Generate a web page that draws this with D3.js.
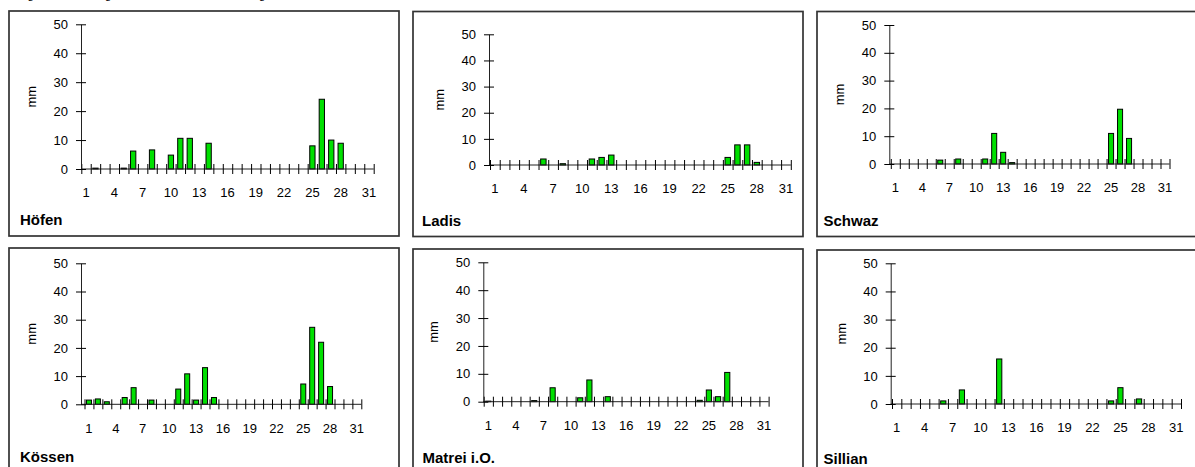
<!DOCTYPE html>
<html>
<head>
<meta charset="utf-8">
<script src="https://cdn.jsdelivr.net/npm/d3@7"></script>
<style>
  html, body { margin: 0; padding: 0; background: #fff; }
  svg { display: block; font-family: "Liberation Sans", Arial, sans-serif; }
</style>
</head>
<body>
<svg id="chart" width="1195" height="467"></svg>
<script>
// Days of the month
const days = [1,2,3,4,5,6,7,8,9,10,11,12,13,14,15,16,17,18,19,20,21,22,23,24,25,26,27,28,29,30,31];
const dayLabels = [1,4,7,10,13,16,19,22,25,28,31];
const yTicks = [0,10,20,30,40,50];

// Daily precipitation (mm) per station
const stations = ["Höfen", "Ladis", "Schwaz", "Kössen", "Matrei i.O.", "Sillian"];
const hoefen  = [0,0.3,0,0,0.3,6.2,0,6.6,0,4.8,10.6,10.6,0,8.9,0,0,0,0,0,0,0,0,0,0,8.0,24.1,10.0,8.9,0,0,0];
const ladis   = [0,0,0,0,0,2.3,0,0.5,0,0,2.3,2.9,3.8,0,0,0,0,0,0,0,0,0,0,0,2.9,7.7,7.7,1.0,0,0,0];
const schwaz  = [0,0,0,0,0,1.4,0,1.8,0,0,1.8,11.0,4.2,0.5,0,0,0,0,0,0,0,0,0,0,11.0,19.7,9.2,0,0,0,0];
const koessen = [1.5,1.9,0.9,0,2.4,5.9,0,1.5,0,0,5.4,10.8,1.5,13.0,2.4,0,0,0,0,0,0,0,0,0,7.2,27.3,22.0,6.3,0,0,0];
const matrei  = [0.2,0,0,0,0,0.4,0,5.0,0,0,1.4,7.8,0,1.8,0,0,0,0,0,0,0,0,0,0.5,4.2,1.8,10.5,0,0,0,0];
const sillian = [0,0,0,0,0,1.1,0,5.0,0,0,0,16.0,0,0,0,0,0,0,0,0,0,0,0,1.1,5.8,0,1.8,0,0,0,0];
const series = [hoefen, ladis, schwaz, koessen, matrei, sillian];

// Panel frames; plot areas are relative to their frame
// axis: x of the value axis, left/right: extent of the day bands
const panels = [
  { fx: 9,   fy: 11,   axis: 72,   left: 72.3, right: 364.7, top: 13.3, bottom: 158,   nameX: 11  },
  { fx: 413, fy: 11.5, axis: 76,   left: 77,   right: 377.8, top: 22.8, bottom: 153.5, nameX: 9   },
  { fx: 817, fy: 11.5, axis: 72.3, left: 73.8, right: 352.5, top: 13.5, bottom: 152.5, nameX: 6.5 },
  { fx: 9,   fy: 248,  axis: 72,   left: 75.5, right: 352.3, top: 15.3, bottom: 156.3, nameX: 11  },
  { fx: 413, fy: 249,  axis: 70.3, left: 70.7, right: 355.6, top: 13.3, bottom: 152.7, nameX: 9.5 },
  { fx: 817, fy: 250,  axis: 73.7, left: 75,   right: 364,   top: 13.3, bottom: 154,   nameX: 6.5 }
];
const frameW = 390, frameH = 225;

const svg = d3.select("#chart");

// Heading, mostly above the visible area
svg.append("text")
  .attr("x", 15.4).attr("y", -0.6)
  .attr("font-size", 11.5).attr("fill", "#000")
  .text("Tagesniederschlag an den Messstationen im August");

panels.forEach((p, i) => {
  const g = svg.append("g").attr("transform", `translate(${p.fx},${p.fy})`);

  g.append("rect")
    .attr("x", 0).attr("y", 0).attr("width", frameW).attr("height", frameH)
    .attr("fill", "#fff").attr("stroke", "#333").attr("stroke-width", 1.7);

  const x = d3.scaleBand().domain(days).range([p.left, p.right]).padding(0);
  const edge = d3.scaleLinear().domain([0, days.length]).range([p.left, p.right]);
  const y = d3.scaleLinear().domain([0, 50]).range([p.bottom, p.top]);

  // bars
  const bw = x.bandwidth() * 0.56;
  g.append("g").selectAll("rect")
    .data(series[i].map((v, k) => ({ day: days[k], v })).filter(d => d.v > 0))
    .join("rect")
    .attr("x", d => x(d.day) + (x.bandwidth() - bw) / 2)
    .attr("y", d => y(d.v))
    .attr("width", bw)
    .attr("height", d => y(0) - y(d.v))
    .attr("fill", "#00e000")
    .attr("stroke", "#000")
    .attr("stroke-width", 1);

  // x axis line from the value axis to the last band edge
  g.append("line")
    .attr("x1", p.axis).attr("x2", p.right)
    .attr("y1", y(0)).attr("y2", y(0))
    .attr("stroke", "#222");

  // boundary ticks crossing the axis line
  const xAxis = g.append("g").attr("transform", `translate(0,${y(0)})`)
    .call(d3.axisBottom(edge).tickValues(d3.range(0, days.length + 1)).tickSize(5).tickSizeOuter(0).tickFormat(""));
  xAxis.selectAll(".tick line").attr("y1", -5).attr("stroke", "#000");
  xAxis.select(".domain").remove();

  // x labels every third day
  const xLab = g.append("g").attr("transform", `translate(0,${y(0)})`)
    .call(d3.axisBottom(x).tickValues(dayLabels).tickSize(0).tickPadding(19));
  xLab.select(".domain").remove();
  xLab.selectAll("text").attr("font-size", 13).attr("font-family", "Liberation Sans, Arial, sans-serif").attr("fill", "#000");

  // y axis
  const yAxis = g.append("g").attr("transform", `translate(${p.axis},0)`)
    .call(d3.axisLeft(y).tickValues(yTicks).tickSize(5).tickSizeOuter(0).tickPadding(8));
  yAxis.selectAll(".tick line").attr("x1", 5).attr("stroke", "#000");
  yAxis.select(".domain").attr("stroke", "#222");
  yAxis.selectAll("text").attr("font-size", 13).attr("font-family", "Liberation Sans, Arial, sans-serif").attr("fill", "#000");

  // unit label
  g.append("text")
    .attr("transform", `translate(${p.axis - 45},${(p.top + p.bottom) / 2}) rotate(-90)`)
    .attr("text-anchor", "middle")
    .attr("font-size", 13)
    .text("mm");

  // station name
  g.append("text")
    .attr("x", p.nameX).attr("y", 214)
    .attr("font-size", 15).attr("font-weight", "bold")
    .text(stations[i]);
});
</script>
</body>
</html>
